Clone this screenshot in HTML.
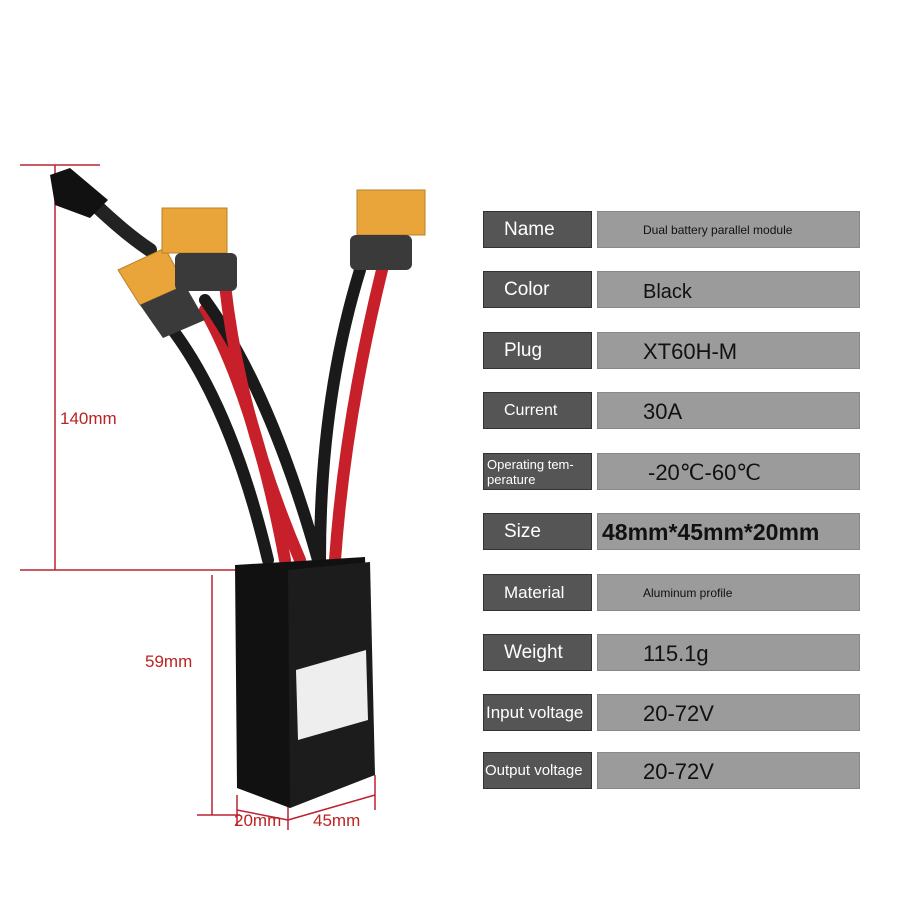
<!DOCTYPE html>
<html><head><style>
body{margin:0;background:#fff;width:900px;height:900px;overflow:hidden;position:relative;font-family:"Liberation Sans",sans-serif}
.l{position:absolute;left:483px;width:109px;height:37px;background:#555;border:1px solid #333;box-sizing:border-box;color:#fff;font-size:19px;line-height:35px;padding-left:20px}
.v{position:absolute;left:597px;width:263px;height:37px;background:#9b9b9b;border:1px solid #888;box-sizing:border-box;color:#111;font-size:22px;line-height:37px;padding-left:45px}
.s{font-size:12px}
</style></head><body>
<svg width="900" height="900" style="position:absolute;left:0;top:0">
<g stroke="#b23" stroke-width="1.5" fill="none">
<line x1="55" y1="165" x2="55" y2="570"/><line x1="20" y1="165" x2="100" y2="165"/>
<line x1="20" y1="570" x2="235" y2="570"/>
<line x1="212" y1="575" x2="212" y2="815"/><line x1="197" y1="815" x2="240" y2="815"/>
<line x1="237" y1="795" x2="237" y2="825"/><line x1="288" y1="805" x2="288" y2="830"/><line x1="375" y1="775" x2="375" y2="810"/>
<line x1="237" y1="810" x2="288" y2="820"/><line x1="288" y1="820" x2="375" y2="795"/>
</g>
<g fill="#b22" font-size="17" font-family="Liberation Sans">
<text x="60" y="424">140mm</text>
<text x="145" y="667">59mm</text>
<text x="234" y="826">20mm</text>
<text x="313" y="826">45mm</text>
</g>
<g fill="none" stroke-width="12" stroke-linecap="round">
<path d="M165 320 Q230 400 268 560" stroke="#1a1a1a"/>
<path d="M205 310 Q255 400 285 560" stroke="#c8202a"/>
<path d="M205 300 Q270 390 318 560" stroke="#1a1a1a"/>
<path d="M225 285 Q240 420 300 560" stroke="#c8202a"/>
<path d="M360 270 Q320 400 320 560" stroke="#1a1a1a"/>
<path d="M382 270 Q345 420 335 560" stroke="#c8202a"/>
<path d="M80 190 Q120 230 150 250" stroke="#222" stroke-width="14"/>
</g>
<path d="M50 175 L70 168 L108 200 L90 218 L55 205 Z" fill="#111"/>
<g fill="#e9a43a" stroke="#b8822a">
<path d="M118 270 L165 248 L185 285 L140 305 Z"/>
<rect x="162" y="208" width="65" height="45"/>
<rect x="357" y="190" width="68" height="45"/>
</g>
<g fill="#3a3a3a">
<path d="M140 305 L185 285 L205 320 L163 338 Z"/>
<rect x="175" y="253" width="62" height="38" rx="6"/>
<rect x="350" y="235" width="62" height="35" rx="6"/>
</g>
<path d="M235 565 L365 557 L372 775 L290 808 L237 788 Z" fill="#111"/>
<path d="M288 570 L370 562 L375 775 L290 808 Z" fill="#1c1c1c"/>
<path d="M296 670 L366 650 L368 720 L298 740 Z" fill="#eee"/>
</svg>
<div class="l" style="top:211px">Name</div><div class="v s" style="top:211px">Dual battery parallel module</div>
<div class="l" style="top:271px">Color</div><div class="v" style="top:271px;font-size:20px;line-height:40px">Black</div>
<div class="l" style="top:332px">Plug</div><div class="v" style="top:332px">XT60H-M</div>
<div class="l" style="top:392px;font-size:16px">Current</div><div class="v" style="top:392px">30A</div>
<div class="l" style="top:453px;font-size:13px;line-height:15px;padding:3px 0 0 3px">Operating tem-<br>perature</div><div class="v" style="top:453px;padding-left:50px">-20℃-60℃</div>
<div class="l" style="top:513px">Size</div><div class="v" style="top:513px;padding-left:4px;font-weight:bold;font-size:23px">48mm*45mm*20mm</div>
<div class="l" style="top:574px;font-size:17px">Material</div><div class="v s" style="top:574px">Aluminum profile</div>
<div class="l" style="top:634px">Weight</div><div class="v" style="top:634px">115.1g</div>
<div class="l" style="top:694px;font-size:17px;padding-left:2px">Input voltage</div><div class="v" style="top:694px">20-72V</div>
<div class="l" style="top:752px;font-size:15px;padding-left:1px">Output voltage</div><div class="v" style="top:752px">20-72V</div>
</body></html>
